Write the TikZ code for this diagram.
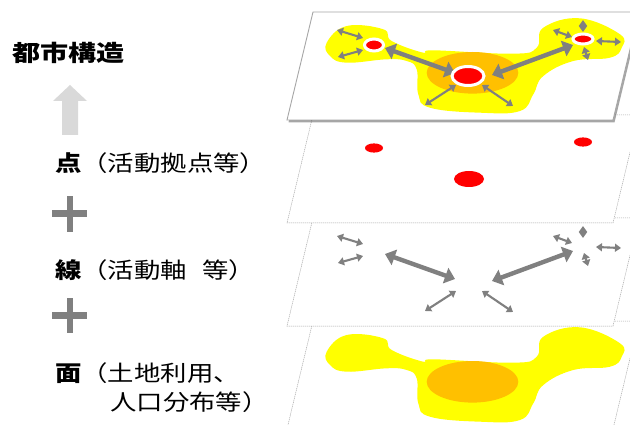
\documentclass[tikz,border=0pt]{standalone}
\usepackage{fontspec}
\newfontfamily\jp[FakeStretch=1.2]{Noto Sans CJK JP}
\usetikzlibrary{arrows.meta,shadows}
\definecolor{ayellow}{HTML}{FFFF00}
\definecolor{aorange}{HTML}{FFC000}
\definecolor{ared}{HTML}{FF0000}
\definecolor{agray}{HTML}{808080}
\definecolor{alight}{HTML}{D9D9D9}
\definecolor{aedge}{HTML}{A6A6A6}
\tikzset{
 planelayer/.style={fill=white, draw=aedge, line width=0.5pt, dash pattern=on 1.2pt off 0.8pt},
 toplayer/.style={fill=white, draw=aedge, line width=0.9pt, drop shadow={shadow xshift=1.5pt, shadow yshift=-2.5pt, opacity=0.35, fill=black}},
 bigarr/.style={draw=agray, line width=4.4pt, {Triangle[length=10pt,width=16pt]}-{Triangle[length=10pt,width=16pt]}},
 smallarr/.style={draw=agray, line width=2.1pt, {Triangle[length=6pt,width=8pt]}-{Triangle[length=6pt,width=8pt]}},
 jptxt/.style={inner sep=0pt, anchor=west, font=\jp\fontsize{22}{26}\selectfont},
 plusbar/.style={fill=agray}
}
\newcommand\axisarrows{%
 \draw[smallarr] (337,30) -- (363,38);
 \draw[smallarr] (338,57) -- (363,50);
 \draw[bigarr] (385,48) -- (455,73);
 \draw[bigarr] (492,75) -- (573,45);
 \draw[smallarr] (425,105) -- (456,85);
 \draw[smallarr] (482,85) -- (513,106);
 \draw[smallarr] (553,30) -- (572,37);
 \draw[smallarr] (596,41) -- (621,42);
 \draw[smallarr] (583,20) -- (583,32);
 \draw[smallarr] (584,47) -- (588,60);
}
\newcommand\landuse{%
 \fill[ayellow] plot[smooth cycle, tension=0.7] coordinates {
 (326.7,351.7) (346.7,335) (383.3,338.3) (391.7,350) (423.3,361.7) (433.3,359.3)
 (513.3,362.7) (536.7,356.7) (543.3,336.7) (580,327.3) (620,343.3) (621.7,356.7)
 (610,366.7) (573.3,370) (543.3,385) (533.3,403.3) (520,420) (480,421.7)
 (430,416.7) (418.3,403.3) (416.7,378.3) (406.7,370) (386.7,368.3) (346.7,371.7) (330,365)};
 \fill[aorange] (472.5,381.8) ellipse [x radius=45.8, y radius=20.8];
}
\begin{document}
\begin{tikzpicture}[x=1pt,y=-1pt]
\clip (0,0) rectangle (630,425);
\fill[white] (0,0) rectangle (630,425);
% layer 4 : surface
\draw[planelayer] (313,321) -- (639,321) -- (613,429) -- (287,429) -- cycle;
\landuse
% layer 3 : axes
\draw[planelayer] (313,218) -- (639,218) -- (613,326) -- (287,326) -- cycle;
\begin{scope}[shift={(0,206)}]
 \axisarrows
\end{scope}
% layer 2 : points
\draw[planelayer] (313,115) -- (639,115) -- (613,223) -- (287,223) -- cycle;
\fill[ared] (374,148) ellipse [x radius=9, y radius=4.6];
\fill[ared] (583,142) ellipse [x radius=9, y radius=4.6];
\fill[ared] (469,179) ellipse [x radius=15, y radius=8];
% layer 1 : structure
\draw[toplayer] (313,12) -- (639,12) -- (613,120) -- (287,120) -- cycle;
\begin{scope}[shift={(0,-309)}]
 \landuse
\end{scope}
\axisarrows
\filldraw[fill=ared, draw=white, line width=3pt] (374,45) ellipse [x radius=9.5, y radius=6];
\filldraw[fill=ared, draw=white, line width=3pt] (583,39) ellipse [x radius=10, y radius=5];
\filldraw[fill=ared, draw=white, line width=3pt] (468,76) ellipse [x radius=16, y radius=9.5];
% left column
\node[jptxt, font=\jp\addfontfeature{FakeStretch=1.25}\fontsize{22.5}{26}\selectfont] (title) at (12,53) {\bfseries 都市構造};
\fill[alight] (62,135) -- (62,101) -- (53,101) -- (70,85) -- (87,101) -- (78,101) -- (78,135) -- cycle;
\node[jptxt] (pointlbl) at (55,163) {\textbf{点}（活動拠点等）};
\fill[plusbar] (52,210.5) rectangle (87,217);
\fill[plusbar] (66.5,196) rectangle (72.5,232);
\node[jptxt] (linelbl) at (55,270) {\textbf{線}（活動軸\hspace{0.7em}等）};
\fill[plusbar] (52,312) rectangle (87,318.5);
\fill[plusbar] (66.5,298) rectangle (72.5,333);
\node[jptxt] (arealbl) at (55,373) {\textbf{面}（土地利用、};
\node[jptxt] (arealbl2) at (110,402) {人口分布等）};
\end{tikzpicture}
\end{document}
